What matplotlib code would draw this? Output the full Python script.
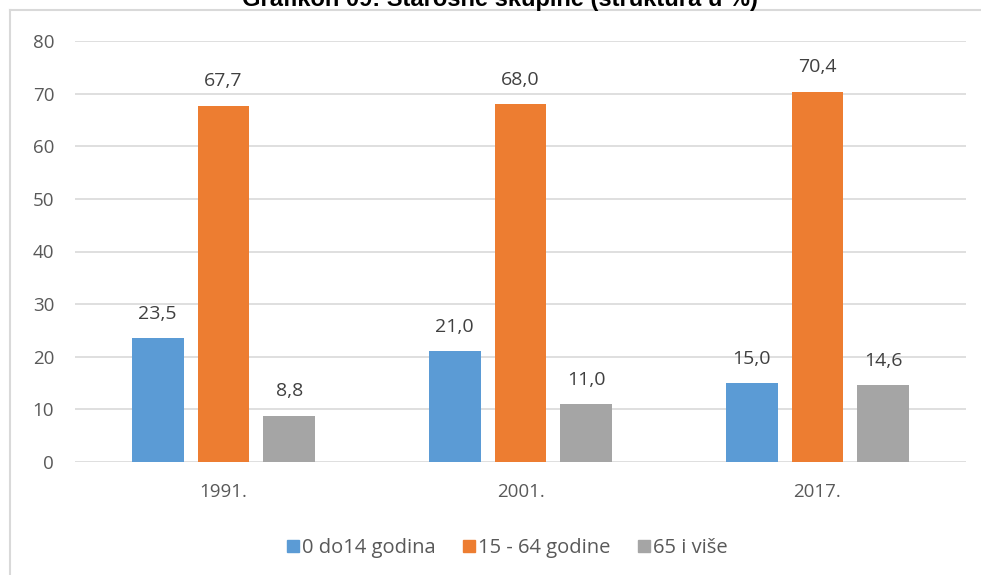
import numpy as np
import matplotlib
matplotlib.use('Agg')
import matplotlib.pyplot as plt
from matplotlib.lines import Line2D

years = ['1991.', '2001.', '2017.']
series = ['0 do14 godina', '15 - 64 godine', '65 i više']
young = [23.5, 21.0, 15.0]
working = [67.7, 68.0, 70.4]
old = [8.8, 11.0, 14.6]
colors = ['#5B9BD5', '#ED7D31', '#A5A5A5']
title = 'Grafikon 09: Starosne skupine (struktura u %)'

plt.rcParams['font.family'] = ['Open Sans', 'DejaVu Sans']
txt = '#595959'

fig = plt.figure(figsize=(9.81, 5.75), dpi=100)
ax = fig.add_axes([75 / 981, 113 / 575, 891 / 981, 421 / 575])

x = np.arange(len(years))
w = 0.175
step = 0.222
for i, (vals, name) in enumerate(zip([young, working, old], series)):
    bars = ax.bar(x + (i - 1) * step, vals, width=w, color=colors[i], label=name, zorder=3)
    for b, v in zip(bars, vals):
        ax.annotate(f'{v:.1f}'.replace('.', ','), (b.get_x() + b.get_width() / 2, v),
                    xytext=(0, 11), textcoords='offset points', ha='center', va='bottom',
                    fontsize=14, color='#404040')

ax.set_xlim(-0.5, 2.5)
ax.set_ylim(0, 80)
ax.set_yticks(range(0, 81, 10))
ax.set_xticks(x)
ax.set_xticklabels(years)
ax.tick_params(length=0, labelsize=13.5, colors=txt)
ax.tick_params(axis='x', pad=15)
ax.tick_params(axis='y', pad=15)
ax.grid(axis='y', color='#D9D9D9', linewidth=1.2, zorder=0)
for s in ax.spines.values():
    s.set_visible(False)

handles = [Line2D([], [], marker='s', linestyle='none', markersize=9, color=c) for c in colors]
fig.legend(handles, series, loc='center', bbox_to_anchor=(507 / 981, 1 - 548 / 575), ncol=3,
           frameon=False, fontsize=14.5, labelcolor=txt, handletextpad=0.1, columnspacing=1.3,
           handlelength=0.7)

# frame around the chart (cut off right and bottom)
fig.add_artist(Line2D([10 / 981, 1], [1 - 10 / 575] * 2, color='#D9D9D9', linewidth=1.5))
fig.add_artist(Line2D([10 / 981] * 2, [0, 1 - 10 / 575], color='#D9D9D9', linewidth=1.5))

fig.text(0.51, 1 - 6 / 575, title, ha='center', va='baseline', fontsize=17,
         fontweight='bold', family=['Liberation Sans', 'DejaVu Sans'], color='black')

fig.savefig('out.png', dpi=100, facecolor='white')
